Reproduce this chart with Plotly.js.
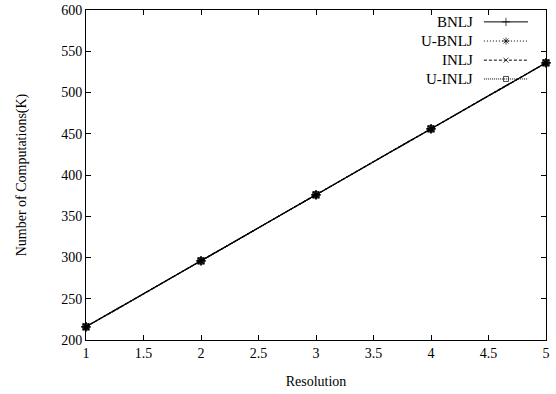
<!DOCTYPE html>
<html><head><meta charset="utf-8">
<script src="https://cdn.plot.ly/plotly-3.0.1.min.js"></script>
<style>html,body{margin:0;padding:0;background:#fff}#c{width:556px;height:394px}</style>
</head><body><div id="c"></div>
<script>
const resolution = [1, 2, 3, 4, 5];
const bnlj  = [216, 296, 376, 456, 536];
const ubnlj = [216, 296, 376, 456, 536];
const inlj  = [216, 296, 376, 456, 536];
const uinlj = [216, 296, 376, 456, 536];
const seriesNames = ['BNLJ', 'U-BNLJ', 'INLJ', 'U-INLJ'];

const styles = [
  {dash: 'solid', symbol: 'cross-thin-open', size: 7},
  {dash: '1px,2px', symbol: 'asterisk-open', size: 7},
  {dash: '3px,2px', symbol: 'x-thin-open', size: 6},
  {dash: '1px,1px', symbol: 'square-open', size: 6}
];
const values = [bnlj, ubnlj, inlj, uinlj];
const FONT = 'Liberation Serif, Times New Roman, serif';

const traces = [];
values.forEach((v, i) => {
  traces.push({
    x: resolution, y: v, type: 'scatter', mode: 'lines+markers', name: seriesNames[i],
    line: {color: '#000', width: 1.2, dash: styles[i].dash},
    marker: {symbol: styles[i].symbol, size: styles[i].size, color: '#000', line: {color: '#000', width: 1.2}},
    showlegend: false, cliponaxis: false
  });
});

// gnuplot-style key drawn in a hidden overlay axis
const keyX = [0.865, 0.913, 0.961];
const keyY = [0.964, 0.906, 0.848, 0.791];
const annotations = [];
seriesNames.forEach((n, i) => {
  traces.push({
    x: keyX, y: [keyY[i], keyY[i], keyY[i]], xaxis: 'x2', yaxis: 'y2',
    type: 'scatter', mode: 'lines+markers', showlegend: false, hoverinfo: 'skip',
    line: {color: '#000', width: 1, dash: styles[i].dash},
    marker: {symbol: styles[i].symbol, size: [0, styles[i].size - 1, 0], color: '#000', line: {color: '#000', width: 1}}
  });
  annotations.push({
    xref: 'x2', yref: 'y2', x: 0.846, y: keyY[i], text: n, showarrow: false,
    xanchor: 'right', yanchor: 'middle', font: {family: FONT, size: 15, color: '#000'}
  });
});

const layout = {
  width: 556, height: 394,
  margin: {l: 86, r: 10, t: 10, b: 54},
  paper_bgcolor: '#fff', plot_bgcolor: '#fff',
  font: {family: FONT, size: 14, color: '#000'},
  xaxis: {
    range: [1, 5], dtick: 0.5, tick0: 1, ticks: 'inside', ticklen: 5, tickwidth: 1, tickcolor: '#000',
    showline: true, linecolor: '#000', linewidth: 1, mirror: 'ticks', showgrid: false, zeroline: false,
    title: {text: 'Resolution', font: {family: FONT, size: 14}, standoff: 16},
    tickfont: {family: FONT, size: 14}
  },
  yaxis: {
    range: [200, 600], dtick: 50, tick0: 200, ticks: 'inside', ticklen: 5, tickwidth: 1, tickcolor: '#000',
    showline: true, linecolor: '#000', linewidth: 1, mirror: 'ticks', showgrid: false, zeroline: false,
    title: {text: 'Number of Computations(K)', font: {family: FONT, size: 14}, standoff: 31},
    tickfont: {family: FONT, size: 14}
  },
  xaxis2: {overlaying: 'x', range: [0, 1], visible: false, fixedrange: true},
  yaxis2: {overlaying: 'y', range: [0, 1], visible: false, fixedrange: true},
  annotations: annotations,
  showlegend: false
};
Plotly.newPlot('c', traces, layout, {staticPlot: true, displayModeBar: false});
</script>
</body></html>
